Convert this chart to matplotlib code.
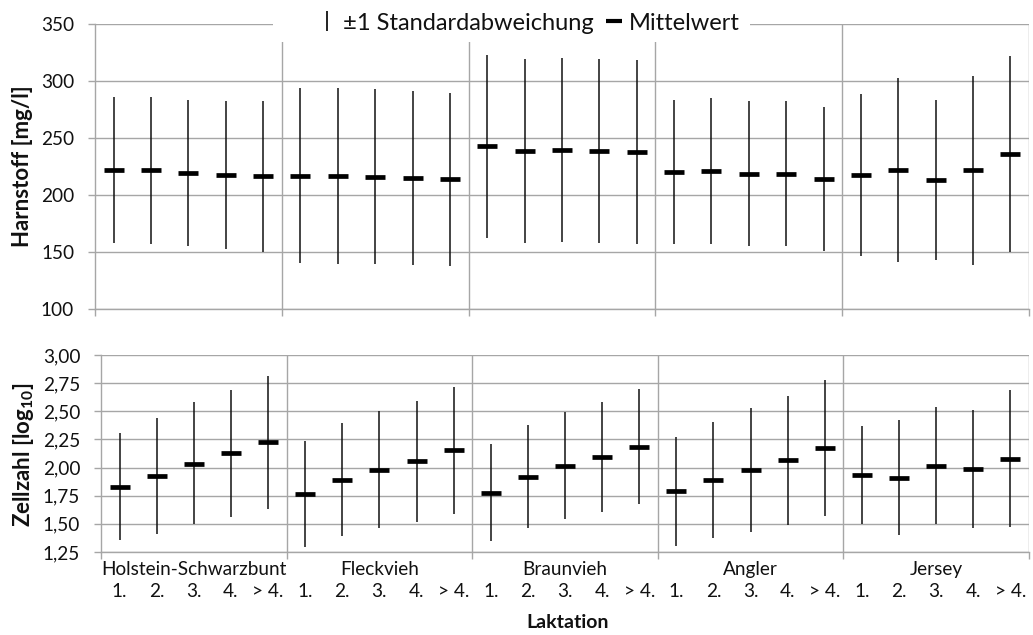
import matplotlib
matplotlib.use('Agg')
import matplotlib.pyplot as plt
from matplotlib.lines import Line2D
from matplotlib.patches import Rectangle
import numpy as np

rassen = ["Holstein-Schwarzbunt", "Fleckvieh", "Braunvieh", "Angler", "Jersey"]
laktationen = ["1.", "2.", "3.", "4.", "> 4."]

harnstoff_mean = [222.2, 222.0, 219.6, 217.8, 217.0,
                  217.0, 217.0, 216.1, 215.2, 214.0,
                  243.3, 238.9, 239.8, 238.9, 238.0,
                  220.5, 221.3, 218.7, 218.7, 214.3,
                  217.8, 222.2, 213.5, 222.2, 236.3]
harnstoff_upper = [286.0, 286.0, 283.6, 282.2, 282.2,
                   293.9, 293.9, 293.0, 291.2, 289.8,
                   323.1, 319.6, 320.5, 319.6, 318.7,
                   283.6, 285.4, 282.2, 282.2, 277.2,
                   288.3, 302.6, 283.6, 304.7, 322.2]
harnstoff_lower = [157.9, 156.7, 155.0, 152.9, 150.0,
                   140.4, 139.2, 139.2, 139.0, 137.7,
                   162.6, 157.9, 158.8, 157.9, 156.7,
                   157.3, 157.3, 155.0, 155.0, 150.9,
                   146.2, 141.5, 143.3, 138.6, 150.0]

zellzahl_mean = [1.831, 1.929, 2.036, 2.125, 2.223,
                 1.769, 1.893, 1.982, 2.054, 2.152,
                 1.778, 1.920, 2.018, 2.098, 2.187,
                 1.796, 1.893, 1.982, 2.063, 2.178,
                 1.938, 1.911, 2.018, 1.991, 2.080]
zellzahl_upper = [2.303, 2.436, 2.579, 2.689, 2.810,
                  2.235, 2.392, 2.505, 2.588, 2.712,
                  2.208, 2.374, 2.490, 2.582, 2.694,
                  2.276, 2.401, 2.525, 2.632, 2.778,
                  2.365, 2.422, 2.534, 2.511, 2.689]
zellzahl_lower = [1.354, 1.407, 1.496, 1.561, 1.629,
                  1.294, 1.392, 1.466, 1.514, 1.591,
                  1.348, 1.466, 1.540, 1.603, 1.680,
                  1.300, 1.374, 1.431, 1.487, 1.570,
                  1.496, 1.398, 1.502, 1.466, 1.472]

harnstoff_ticks = [100, 150, 200, 250, 300, 350]
zellzahl_ticks = [1.25, 1.50, 1.75, 2.00, 2.25, 2.50, 2.75, 3.00]

FONT = 'Lato'
plt.rcParams['font.family'] = [FONT, 'DejaVu Sans']
plt.rcParams['mathtext.fontset'] = 'custom'
plt.rcParams['mathtext.rm'] = FONT
plt.rcParams['mathtext.bf'] = FONT + ':bold'
FS = 13.7
FS_LEG = 17.0
FS_YLAB = 16.0
FS_XLAB = 14.0
GRID = '#a6a6a6'
INK = '#111111'

W, H = 1033, 635
fig = plt.figure(figsize=(W / 100, H / 100), dpi=100)
ax1 = fig.add_axes([95 / W, 1 - 309 / H, 934 / W, 285 / H])
ax2 = fig.add_axes([101 / W, 1 - 552 / H, 928 / W, 197 / H])

n_groups = len(rassen)
n_per = len(laktationen)
x = np.arange(n_groups * n_per)
bounds = np.arange(-0.5, n_groups * n_per, n_per)


def style(ax, ticks, labels, pad):
    ax.set_xlim(-0.5, n_groups * n_per - 0.5)
    ax.set_ylim(ticks[0], ticks[-1])
    ax.set_yticks(ticks)
    ax.set_yticklabels(labels)
    for s in ['top', 'right']:
        ax.spines[s].set_visible(False)
    for s in ['left', 'bottom']:
        ax.spines[s].set_color(GRID)
        ax.spines[s].set_linewidth(1.0)
    ax.grid(axis='y', color=GRID, lw=1.0, zorder=0)
    ax.set_axisbelow(True)
    for b in bounds[1:]:
        ax.axvline(b, color=GRID, lw=1.0, zorder=0.5)
    ax.set_xticks(bounds, minor=True)
    ax.set_xticks([])
    ax.tick_params(axis='x', which='minor', length=5, width=1.0, color=GRID, direction='out', labelbottom=False)
    ax.tick_params(axis='y', length=5, width=1.0, color=GRID, direction='out', pad=pad,
                   labelsize=FS, labelcolor=INK)


def draw(ax, mean, lower, upper):
    ax.vlines(x, lower, upper, color=INK, lw=1.1, zorder=3)
    ax.plot(x, mean, ls='none', marker='_', markersize=15, markeredgewidth=3.4, color='black', zorder=4)


draw(ax1, harnstoff_mean, harnstoff_lower, harnstoff_upper)
draw(ax2, zellzahl_mean, zellzahl_lower, zellzahl_upper)
style(ax1, harnstoff_ticks, [str(t) for t in harnstoff_ticks], 10)
style(ax2, zellzahl_ticks, [f"{t:.2f}".replace('.', ',') for t in zellzahl_ticks], 10)

# two-level category labels on bottom axis
for g, name in enumerate(rassen):
    ax2.text(g * n_per + (n_per - 1) / 2, -(575 - 552) / 197, name, transform=ax2.get_xaxis_transform(),
             ha='center', va='baseline', fontsize=FS, color=INK)
    for k, lab in enumerate(laktationen):
        ax2.text(g * n_per + k, -(597 - 552) / 197, lab, transform=ax2.get_xaxis_transform(),
                 ha='center', va='baseline', fontsize=FS, color=INK)

fig.text(568 / W, 1 - 623 / H, 'Laktation', ha='center', va='center', fontsize=FS_XLAB,
         fontweight='bold', color=INK)
fig.text(23 / W, 1 - 166 / H, 'Harnstoff [mg/l]', rotation=90, ha='center', va='center',
         fontsize=FS_YLAB, fontweight='bold', color=INK)
fig.text(23 / W, 1 - 455 / H, r'Zellzahl [log$_{\mathbf{10}}$]', rotation=90, ha='center', va='center',
         fontsize=FS_YLAB, fontweight='bold', color=INK)

# white legend background (covers grid lines behind the legend)
fig.add_artist(Rectangle((273 / W, 1 - 42 / H), (750 - 273) / W, 42 / H, transform=fig.transFigure,
                         facecolor='white', edgecolor='none', zorder=5))

handles = [Line2D([], [], ls='none', marker='|', markersize=15, markeredgewidth=1.3, color=INK),
           Line2D([], [], ls='none', marker='_', markersize=12, markeredgewidth=3.0, color='black')]
leg = fig.legend(handles, ['±1 Standardabweichung', 'Mittelwert'], loc='center',
                 bbox_to_anchor=(530 / W, 1 - 23 / H), ncol=2, frameon=False, fontsize=FS_LEG,
                 handlelength=0.6, handletextpad=0.35, columnspacing=0.55, borderpad=0.2)
leg.set_zorder(6)
for t in leg.get_texts():
    t.set_color(INK)

fig.savefig('out.png', dpi=100)
